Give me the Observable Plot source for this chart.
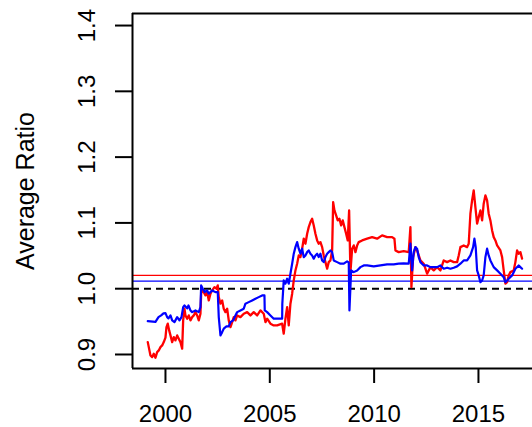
<!DOCTYPE html>
<html>
<head>
<meta charset="utf-8">
<script src="https://cdn.jsdelivr.net/npm/d3@7"></script>
<script src="https://cdn.jsdelivr.net/npm/@observablehq/plot@0.6"></script>
<style>
  html, body { margin: 0; padding: 0; background: #fff; overflow: hidden; }
</style>
</head>
<body>
<div id="chart"></div>
<script>
// ---- data ----
const redYears = [1999.152,1999.200,1999.281,1999.363,1999.439,1999.521,1999.602,1999.679,1999.760,1999.842,1999.919,2000.000,2000.048,2000.110,2000.177,2000.240,2000.321,2000.398,2000.479,2000.561,2000.637,2000.719,2000.800,2000.848,2000.910,2000.958,2001.040,2001.116,2001.198,2001.279,2001.356,2001.437,2001.519,2001.596,2001.677,2001.711,2001.759,2001.835,2001.917,2001.998,2002.075,2002.156,2002.238,2002.348,2002.444,2002.506,2002.554,2002.635,2002.717,2002.793,2002.875,2002.956,2003.033,2003.115,2003.196,2003.273,2003.354,2003.436,2003.594,2003.752,2003.915,2004.073,2004.231,2004.394,2004.552,2004.710,2004.792,2004.873,2005.031,2005.189,2005.352,2005.592,2005.668,2005.750,2005.831,2005.908,2005.989,2006.071,2006.148,2006.229,2006.310,2006.387,2006.469,2006.550,2006.627,2006.708,2006.790,2006.866,2006.948,2007.029,2007.106,2007.187,2007.269,2007.345,2007.427,2007.508,2007.585,2007.666,2007.748,2007.824,2007.906,2007.988,2008.036,2008.098,2008.179,2008.256,2008.337,2008.419,2008.495,2008.577,2008.658,2008.735,2008.802,2008.864,2008.946,2009.023,2009.104,2009.186,2009.262,2009.425,2009.665,2009.904,2010.144,2010.383,2010.623,2010.863,2010.973,2011.021,2011.179,2011.418,2011.658,2011.739,2011.787,2011.868,2011.979,2012.060,2012.218,2012.377,2012.539,2012.698,2012.856,2013.019,2013.177,2013.335,2013.498,2013.656,2013.814,2013.977,2014.054,2014.135,2014.293,2014.456,2014.533,2014.614,2014.695,2014.772,2014.853,2014.935,2015.012,2015.093,2015.175,2015.251,2015.333,2015.414,2015.491,2015.572,2015.654,2015.731,2015.812,2015.894,2016.052,2016.133,2016.210,2016.291,2016.373,2016.449,2016.531,2016.689,2016.770,2016.852,2016.929,2017.010,2017.091];
const redValues = [0.9188,0.9112,0.8986,0.8960,0.9012,0.8951,0.9036,0.9062,0.9112,0.9138,0.9188,0.9255,0.9416,0.9468,0.9366,0.9290,0.9188,0.9264,0.9214,0.9290,0.9240,0.9188,0.9088,0.9518,0.9696,0.9594,0.9544,0.9594,0.9518,0.9568,0.9594,0.9644,0.9594,0.9518,0.9620,0.9924,0.9974,0.9948,0.9898,0.9948,0.9822,0.9924,0.9974,1.0024,1.0000,1.0050,0.9872,0.9772,0.9822,0.9696,0.9644,0.9696,0.9518,0.9416,0.9492,0.9568,0.9518,0.9594,0.9568,0.9620,0.9644,0.9594,0.9644,0.9594,0.9670,0.9620,0.9492,0.9544,0.9468,0.9442,0.9442,0.9468,0.9316,0.9544,0.9720,0.9442,0.9772,0.9924,1.0126,1.0278,1.0380,1.0506,1.0480,1.0608,1.0760,1.0684,1.0836,1.0936,1.1012,1.1064,1.0962,1.0836,1.0734,1.0684,1.0708,1.0632,1.0506,1.0404,1.0304,1.0404,1.0430,1.0582,1.1316,1.1190,1.1114,1.1038,1.1064,1.0962,1.1038,1.0936,1.0836,1.0734,1.1190,1.0252,1.0608,1.0658,1.0556,1.0658,1.0708,1.0734,1.0760,1.0784,1.0760,1.0810,1.0784,1.0784,1.0760,1.0582,1.0556,1.0571,1.0556,1.0936,1.0024,1.0480,1.0632,1.0582,1.0430,1.0380,1.0228,1.0328,1.0278,1.0328,1.0278,1.0430,1.0404,1.0430,1.0404,1.0404,1.0506,1.0632,1.0658,1.0632,1.0684,1.1140,1.1342,1.1494,1.1240,1.0988,1.1088,1.1190,1.1038,1.1292,1.1418,1.1342,1.1140,1.1038,1.0886,1.0784,1.0734,1.0658,1.0582,1.0480,1.0278,1.0076,1.0100,1.0202,1.0252,1.0278,1.0404,1.0582,1.0532,1.0556,1.0456];

const blueYears = [1999.152,1999.521,1999.665,1999.794,1999.904,2000.000,2000.081,2000.144,2000.240,2000.321,2000.431,2000.561,2000.671,2000.767,2000.848,2000.910,2001.040,2001.102,2001.198,2001.279,2001.437,2001.596,2001.677,2001.711,2001.787,2001.883,2001.998,2002.075,2002.238,2002.396,2002.506,2002.554,2002.635,2002.717,2002.793,2002.923,2003.033,2003.115,2003.244,2003.354,2003.436,2003.594,2003.752,2003.833,2003.991,2004.154,2004.312,2004.470,2004.633,2004.744,2004.758,2004.873,2005.031,2005.189,2005.352,2005.510,2005.592,2005.600,2005.668,2005.750,2005.831,2005.908,2005.989,2006.071,2006.148,2006.229,2006.310,2006.387,2006.469,2006.550,2006.627,2006.708,2006.790,2006.866,2006.948,2007.029,2007.106,2007.187,2007.269,2007.345,2007.427,2007.508,2007.585,2007.666,2007.748,2007.824,2007.906,2007.988,2008.064,2008.227,2008.385,2008.543,2008.706,2008.783,2008.817,2008.898,2009.023,2009.186,2009.344,2009.502,2009.665,2009.981,2010.302,2010.623,2010.939,2011.179,2011.418,2011.658,2011.739,2011.821,2011.897,2011.979,2012.060,2012.137,2012.218,2012.377,2012.539,2012.698,2012.856,2013.019,2013.177,2013.335,2013.498,2013.656,2013.814,2013.977,2014.135,2014.293,2014.456,2014.614,2014.744,2014.806,2014.868,2014.935,2015.012,2015.093,2015.175,2015.251,2015.333,2015.414,2015.491,2015.572,2015.731,2015.894,2016.052,2016.210,2016.291,2016.373,2016.449,2016.612,2016.770,2016.929,2017.010,2017.091];
const blueValues = [0.9508,0.9495,0.9568,0.9594,0.9625,0.9629,0.9568,0.9549,0.9594,0.9518,0.9492,0.9568,0.9518,0.9568,0.9720,0.9746,0.9701,0.9746,0.9670,0.9644,0.9670,0.9644,0.9720,1.0050,1.0000,0.9948,0.9974,0.9924,0.9974,0.9948,0.9948,0.9568,0.9290,0.9340,0.9392,0.9427,0.9427,0.9492,0.9518,0.9594,0.9644,0.9670,0.9696,0.9772,0.9796,0.9822,0.9848,0.9872,0.9898,0.9898,0.9670,0.9644,0.9594,0.9544,0.9544,0.9544,0.9544,0.9772,1.0126,1.0076,1.0152,1.0076,1.0228,1.0380,1.0532,1.0632,1.0708,1.0608,1.0532,1.0608,1.0480,1.0506,1.0556,1.0582,1.0532,1.0506,1.0456,1.0506,1.0532,1.0480,1.0532,1.0430,1.0404,1.0480,1.0532,1.0556,1.0582,1.0556,1.0430,1.0404,1.0380,1.0380,1.0415,1.0400,0.9670,1.0278,1.0252,1.0278,1.0328,1.0354,1.0354,1.0339,1.0354,1.0369,1.0369,1.0380,1.0384,1.0380,1.0684,1.0278,1.0556,1.0632,1.0608,1.0480,1.0404,1.0354,1.0354,1.0328,1.0328,1.0328,1.0354,1.0304,1.0319,1.0304,1.0319,1.0339,1.0380,1.0430,1.0430,1.0506,1.0632,1.0760,1.0632,1.0278,1.0202,1.0100,1.0126,1.0202,1.0480,1.0608,1.0506,1.0430,1.0328,1.0278,1.0228,1.0176,1.0100,1.0126,1.0152,1.0202,1.0304,1.0354,1.0328,1.0304];

const redMean = 1.0202;
const blueMean = 1.0116;
const refLevel = 1.0;
const xTicks = [2000, 2005, 2010, 2015];
const yTicks = [0.9, 1.0, 1.1, 1.2, 1.3, 1.4];
const yTitle = "Average Ratio";

// ---- build tables ----
const red = redYears.map((t, i) => ({t, v: redValues[i]}));
const blue = blueYears.map((t, i) => ({t, v: blueValues[i]}));

const xDomain = [1998.42, 2017.59];
const yDomain = [0.8787, 1.4183];
const font = "'Liberation Sans', Arial, Helvetica, sans-serif";

const chart = Plot.plot({
  width: 532,
  height: 427,
  marginLeft: 132,
  marginRight: 0,
  marginTop: 13,
  marginBottom: 59,
  style: {fontFamily: font, fontSize: "24px", background: "#fff", color: "#000"},
  x: {domain: xDomain, axis: null},
  y: {domain: yDomain, axis: null},
  marks: [
    // reference lines
    Plot.ruleY([redMean], {stroke: "#ff0000", strokeWidth: 1.3}),
    Plot.ruleY([blueMean], {stroke: "#0000ff", strokeWidth: 1.3}),
    Plot.ruleY([refLevel], {stroke: "#000", strokeWidth: 2, strokeDasharray: "7,5"}),
    // series
    Plot.line(red, {x: "t", y: "v", stroke: "#ff0000", strokeWidth: 2.3, strokeLinejoin: "round"}),
    Plot.line(blue, {x: "t", y: "v", stroke: "#0000ff", strokeWidth: 2.2, strokeLinejoin: "round"}),
    // box (right edge falls outside the picture)
    Plot.ruleY([yDomain[0], yDomain[1]], {stroke: "#000", strokeWidth: 2}),
    Plot.ruleX([xDomain[0]], {stroke: "#000", strokeWidth: 2}),
    // x axis
    Plot.axisX({ticks: xTicks, tickSize: 15, tickPadding: 21, fontSize: 24, strokeWidth: 2,
      tickFormat: d => String(d), label: null}),
    // y axis ticks
    Plot.axisY({ticks: yTicks, tickSize: 17, strokeWidth: 2, tickFormat: () => "", label: null}),
    // y tick labels, rotated
    Plot.text(yTicks, {y: d => d, text: d => d.toFixed(1), frameAnchor: "left", dx: -38,
      rotate: -90, textAnchor: "middle", lineAnchor: "bottom", fontSize: 24}),
    // y title
    Plot.text([yTitle], {text: d => d, frameAnchor: "left", dx: -99, rotate: -90,
      textAnchor: "middle", lineAnchor: "bottom", fontSize: 25})
  ]
});
document.getElementById("chart").appendChild(chart);
</script>
</body>
</html>
